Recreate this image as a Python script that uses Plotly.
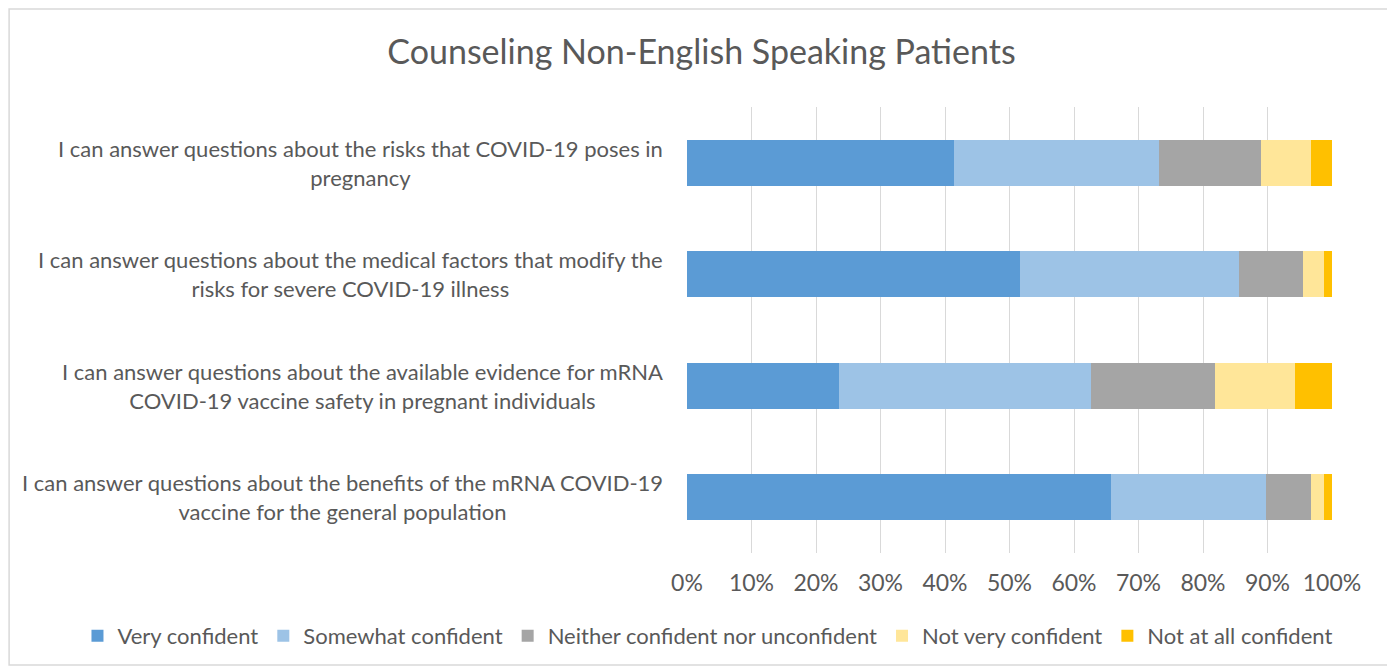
import plotly.graph_objects as go

# Survey items, top to bottom as shown in the chart
items = [
    "I can answer questions about the risks that COVID-19 poses in<br>pregnancy",
    "I can answer questions about the medical factors that modify the<br>risks for severe COVID-19 illness",
    "I can answer questions about the available evidence for mRNA<br>COVID-19 vaccine safety in pregnant individuals",
    "I can answer questions about the benefits of the mRNA COVID-19<br>vaccine for the general population",
]
keys = ["risks", "factors", "evidence", "benefits"]

very_confident = [41.4, 51.6, 23.5, 65.8]
somewhat_confident = [31.8, 34.0, 39.2, 24.0]
neither = [15.8, 9.9, 19.1, 7.0]
not_very_confident = [7.8, 3.2, 12.4, 1.9]
not_at_all_confident = [3.2, 1.3, 5.8, 1.3]

x_ticks = list(range(0, 101, 10))
x_tick_labels = [f"{t}%" for t in x_ticks]

series = [
    ("Very confident", very_confident, "#5B9BD5"),
    ("Somewhat confident", somewhat_confident, "#9DC3E6"),
    ("Neither confident nor unconfident", neither, "#A5A5A5"),
    ("Not very confident", not_very_confident, "#FFE699"),
    ("Not at all confident", not_at_all_confident, "#FFC000"),
]

TEXT = "#595959"
FONT = "Lato"

# the page adds an 8px body margin, so the figure is 8px smaller than the window
W, H = 1387, 661

fig = go.Figure()
for name, vals, color in series:
    fig.add_trace(go.Bar(
        name=name,
        y=keys,
        x=vals,
        orientation="h",
        marker=dict(color=color, line=dict(width=0)),
        width=0.41,
    ))

# category labels, centred line by line like the original
for key, label in zip(keys, items):
    fig.add_annotation(
        x=-0.034, xref="paper", y=key, yref="y",
        text=label, showarrow=False,
        xanchor="right", align="center",
        font=dict(family=FONT, size=22, color=TEXT),
    )

# outer chart border
fig.add_shape(
    type="rect", xref="paper", yref="paper",
    x0=-1.051, x1=1.090, y0=-0.251, y1=1.220,
    line=dict(color="#D9D9D9", width=1.5), fillcolor="rgba(0,0,0,0)",
)

fig.update_layout(
    barmode="stack",
    width=W, height=H,
    margin=dict(l=679, r=63, t=99, b=116),
    paper_bgcolor="white",
    plot_bgcolor="white",
    font=dict(family=FONT, size=22, color=TEXT),
    title=dict(
        text="Counseling Non-English Speaking Patients",
        x=0.5, xref="container", xanchor="center",
        y=1 - 44 / H, yref="container", yanchor="middle",
        font=dict(family=FONT, size=34, color=TEXT),
    ),
    legend=dict(
        orientation="h",
        x=-0.945, xref="paper", xanchor="left",
        y=-0.186, yref="paper", yanchor="middle",
        font=dict(family=FONT, size=22, color=TEXT),
        traceorder="normal",
        itemwidth=30,
    ),
    bargap=0.59,
)
fig.update_xaxes(
    range=[0, 100],
    tickvals=x_ticks, ticktext=x_tick_labels,
    showgrid=True, gridcolor="#D9D9D9", gridwidth=1,
    zeroline=False, showline=False,
    tickfont=dict(family=FONT, size=23, color=TEXT),
    ticklabelstandoff=14,
)
fig.update_yaxes(
    autorange="reversed",
    showticklabels=False,
    showgrid=False, zeroline=False, showline=False,
)

fig.write_html("out.html")
